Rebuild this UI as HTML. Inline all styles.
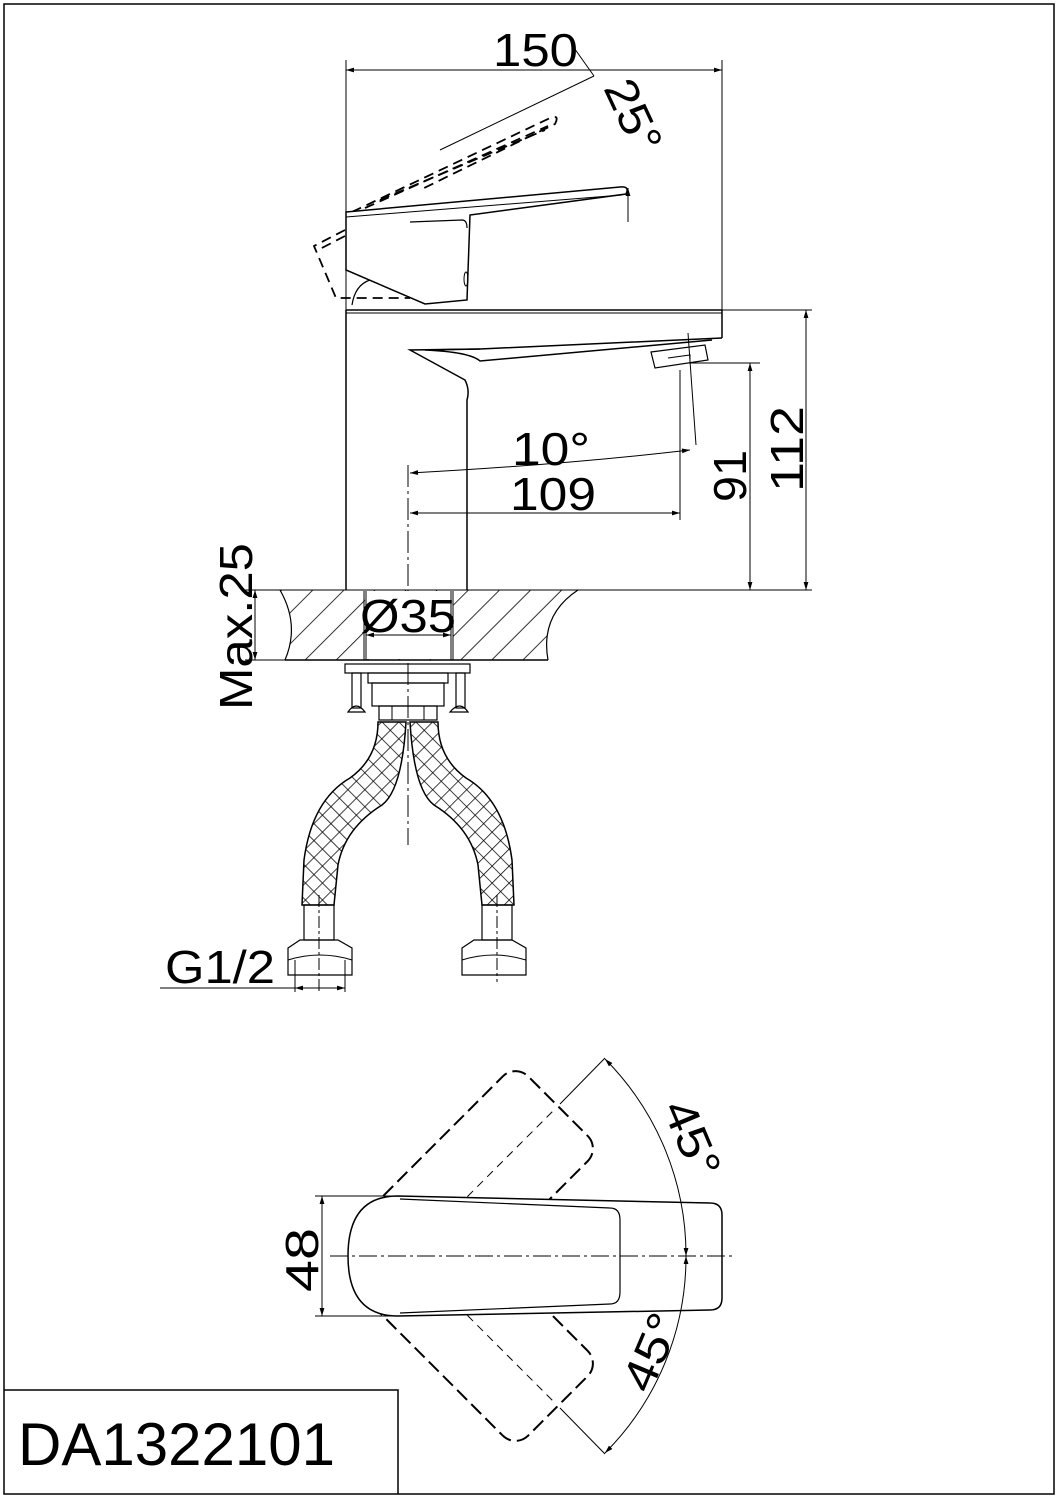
<!DOCTYPE html>
<html><head><meta charset="utf-8"><style>
html,body{margin:0;padding:0;background:#fff}
svg{display:block}
text{font-family:"Liberation Sans",Arial,sans-serif;fill:#000}
</style></head><body>
<svg width="1059" height="1500" viewBox="0 0 1059 1500" xmlns="http://www.w3.org/2000/svg">
<defs>
<pattern id="hatch" width="22" height="22" patternUnits="userSpaceOnUse" patternTransform="rotate(45)">
<line x1="0" y1="0" x2="0" y2="22" stroke="#000" stroke-width="1.6"/>
</pattern>
<pattern id="mesh" width="12" height="12" patternUnits="userSpaceOnUse" patternTransform="rotate(45)">
<rect width="12" height="12" fill="#fff"/>
<line x1="0" y1="0" x2="0" y2="12" stroke="#000" stroke-width="1.5"/>
<line x1="0" y1="0" x2="12" y2="0" stroke="#000" stroke-width="1.5"/>
</pattern>
<marker id="ar" viewBox="0 0 10 10" refX="10" refY="5" markerWidth="12" markerHeight="8" orient="auto-start-reverse" markerUnits="userSpaceOnUse">
<path d="M0,2 L10,5 L0,8 z" fill="#000"/>
</marker>
</defs>
<g fill="none" stroke="#000" stroke-width="1.5">
<rect x="4" y="4" width="1050" height="1490"/>
<polyline points="4,1390 398,1390 398,1494"/>

<!-- 150 dim -->
<line x1="346" y1="60" x2="346" y2="310" stroke-width="1"/>
<line x1="722" y1="60" x2="722" y2="310" stroke-width="1"/>
<line x1="346" y1="70" x2="722" y2="70" stroke-width="1" marker-start="url(#ar)" marker-end="url(#ar)"/>
<line x1="572" y1="45" x2="594" y2="76" stroke-width="1"/>
<line x1="594" y1="76" x2="440" y2="150" stroke-width="1"/>

<!-- dashed raised lever -->
<g stroke-dasharray="10,6" stroke-width="1.8">
<path d="M352,212 L550,118 Q560,114 555,124 L420,190"/>
<path d="M365,208 L548,126"/>
<path d="M380,200 L545,130"/>
<path d="M345,230 L314,246 L336,298 L410,298"/>
<path d="M345,236 L318,250"/>
</g>
<!-- handle body -->
<path d="M346,212 L620,187 Q630,186 626,194 L470,215 L467,300 L425,304 L346,270 Z" fill="#fff"/>
<line x1="346" y1="217" x2="622" y2="195" stroke-width="1"/>
<path d="M410,222 L462,220 Q467,220 467,228" stroke-width="1.2"/>
<path d="M352,305 Q355,285 370,280" stroke-width="1.2"/>
<line x1="628" y1="188" x2="628" y2="222" stroke-width="1" marker-start="url(#ar)"/>
<ellipse cx="466" cy="279" rx="2" ry="7" stroke-width="1"/>

<!-- body -->
<line x1="346" y1="310" x2="722" y2="310"/>
<line x1="346" y1="313" x2="722" y2="313" stroke-width="1"/>
<line x1="346" y1="310" x2="346" y2="590"/>
<line x1="722" y1="310" x2="722" y2="338"/>
<path d="M722,338 L480,349 L410,350 L465,380 Q470,390 467,400 L467,590"/>
<path d="M480,349 L425,350 Q470,352 480,361 L712,340"/>
<path d="M651,352 L705,345 L708,360 L655,368 Z" stroke-width="1.2"/>
<path d="M668,358 L690,355 L690,364" stroke-width="1"/>
<line x1="688" y1="333" x2="696" y2="445" stroke-width="1"/>
<line x1="690" y1="363" x2="760" y2="363" stroke-width="1"/>

<!-- dims 10°, 109 -->
<path d="M410,473 Q560,465 690,450" stroke-width="1" marker-start="url(#ar)" marker-end="url(#ar)"/>
<line x1="410" y1="513" x2="680" y2="513" stroke-width="1" marker-start="url(#ar)" marker-end="url(#ar)"/>
<line x1="680" y1="370" x2="680" y2="520" stroke-width="1"/>
<line x1="408" y1="465" x2="408" y2="845" stroke-width="1" stroke-dasharray="22,4,3,4"/>
<!-- 91 & 112 -->
<line x1="722" y1="310" x2="812" y2="310" stroke-width="1"/>
<line x1="750" y1="363" x2="750" y2="590" stroke-width="1" marker-start="url(#ar)" marker-end="url(#ar)"/>
<line x1="806" y1="310" x2="806" y2="590" stroke-width="1" marker-start="url(#ar)" marker-end="url(#ar)"/>

<!-- countertop -->
<line x1="245" y1="590" x2="812" y2="590" stroke-width="1"/>
<line x1="245" y1="660" x2="548" y2="660" stroke-width="1"/>
<path d="M280,590 L578,590 Q540,615 548,660 L285,660 Q300,625 280,590 Z" fill="url(#hatch)" stroke="none"/>
<path d="M280,590 Q300,625 285,660" stroke-width="1.2"/>
<path d="M578,590 Q540,615 548,660" stroke-width="1.2"/>
<line x1="285" y1="660" x2="548" y2="660"/>
<line x1="255" y1="590" x2="255" y2="660" stroke-width="1" marker-start="url(#ar)" marker-end="url(#ar)"/>
<rect x="365" y="591" width="88" height="68" fill="#fff" stroke="none"/>
<line x1="364" y1="591" x2="364" y2="660" stroke-width="1"/>
<line x1="366" y1="591" x2="366" y2="660" stroke-width="1"/>
<line x1="451" y1="591" x2="451" y2="660" stroke-width="1"/>
<line x1="453" y1="591" x2="453" y2="660" stroke-width="1"/>
<line x1="366" y1="635" x2="451" y2="635" stroke-width="1" marker-start="url(#ar)" marker-end="url(#ar)"/>

<!-- mounting -->
<rect x="345" y="664" width="125" height="9" stroke-width="1.2"/>
<rect x="352" y="673" width="9" height="35" stroke-width="1.2"/>
<rect x="456" y="673" width="9" height="35" stroke-width="1.2"/>
<path d="M348,712 Q356,700 365,712 Z" stroke-width="1.2"/>
<path d="M450,712 Q460,700 468,712 Z" stroke-width="1.2"/>
<rect x="368" y="673" width="80" height="10" stroke-width="1.2"/>
<rect x="372" y="683" width="72" height="23" stroke-width="1.2"/>
<rect x="379" y="706" width="58" height="14" stroke-width="1.2"/>
<line x1="392" y1="706" x2="392" y2="720" stroke-width="1"/>
<line x1="424" y1="706" x2="424" y2="720" stroke-width="1"/>

<!-- hoses -->
<path d="M378,722 L406,722 Q402,790 382,805 Q345,828 338,865 L334,905 L302,905 L304,860 Q312,800 350,778 Q378,758 378,722 Z" fill="url(#mesh)"/>
<path d="M438,722 L410,722 Q414,790 434,805 Q471,828 478,865 L482,905 L514,905 L512,860 Q504,800 466,778 Q438,758 438,722 Z" fill="url(#mesh)"/>
<rect x="304" y="905" width="30" height="35" stroke-width="1.2"/>
<rect x="482" y="905" width="30" height="35" stroke-width="1.2"/>
<path d="M288,948 L300,940 L338,940 L352,948 L352,975 L288,975 Z" stroke-width="1.2"/>
<path d="M288,960 Q320,950 352,960" stroke-width="1"/>
<path d="M462,948 L474,940 L512,940 L526,948 L526,975 L462,975 Z" stroke-width="1.2"/>
<path d="M462,960 Q494,950 526,960" stroke-width="1"/>
<line x1="319" y1="895" x2="319" y2="992" stroke-width="1" stroke-dasharray="12,3,3,3"/>
<line x1="497" y1="895" x2="497" y2="982" stroke-width="1" stroke-dasharray="12,3,3,3"/>
<line x1="160" y1="988" x2="345" y2="988" stroke-width="1"/>
<line x1="295" y1="960" x2="295" y2="992" stroke-width="1"/>
<line x1="345" y1="960" x2="345" y2="992" stroke-width="1"/>
<line x1="295" y1="988" x2="345" y2="988" stroke-width="1" marker-start="url(#ar)" marker-end="url(#ar)"/>

<!-- top view -->
<g stroke-dasharray="14,6" stroke-width="2">
<rect x="395" y="1196" width="225" height="120" rx="18" transform="rotate(-45 408 1256)"/>
<rect x="395" y="1196" width="225" height="120" rx="18" transform="rotate(45 408 1256)"/>
</g>
<g stroke-dasharray="8,6" stroke-width="1">
<line x1="408" y1="1256" x2="555" y2="1109"/>
<line x1="408" y1="1256" x2="555" y2="1403"/>
</g>
<path d="M398,1196 L710,1203 Q722,1203 722,1215 L722,1298 Q722,1310 710,1310 L398,1316 Q348,1316 348,1256 Q348,1196 398,1196 Z" fill="#fff"/>
<path d="M400,1199 L610,1208 Q620,1208 620,1220 L620,1292 Q620,1304 610,1304 L400,1313" stroke-width="1.2"/>
<line x1="330" y1="1256" x2="735" y2="1256" stroke-width="1" stroke-dasharray="18,4,3,4"/>
<line x1="315" y1="1196" x2="400" y2="1196" stroke-width="1"/>
<line x1="315" y1="1316" x2="400" y2="1316" stroke-width="1"/>
<line x1="322" y1="1196" x2="322" y2="1316" stroke-width="1" marker-start="url(#ar)" marker-end="url(#ar)"/>
<line x1="560" y1="1104" x2="605" y2="1058" stroke-width="1"/>
<line x1="560" y1="1408" x2="605" y2="1454" stroke-width="1"/>
<path d="M605,1059 A278 278 0 0 1 686,1256" stroke-width="1" marker-start="url(#ar)" marker-end="url(#ar)"/>
<path d="M686,1256 A278 278 0 0 1 605,1453" stroke-width="1" marker-start="url(#ar)" marker-end="url(#ar)"/>
</g>

<g font-size="46">
<text x="493" y="66" textLength="85" lengthAdjust="spacingAndGlyphs">150</text>
<text transform="translate(603,88) rotate(65)" textLength="76" lengthAdjust="spacingAndGlyphs">25°</text>
<text x="512" y="465" textLength="78" lengthAdjust="spacingAndGlyphs">10°</text>
<text x="510" y="510" textLength="86" lengthAdjust="spacingAndGlyphs">109</text>
<text transform="translate(746,502) rotate(-90)" textLength="52" lengthAdjust="spacingAndGlyphs">91</text>
<text transform="translate(803,492) rotate(-90)" textLength="86" lengthAdjust="spacingAndGlyphs">112</text>
<text transform="translate(252,710) rotate(-90)" textLength="167" lengthAdjust="spacingAndGlyphs">Max.25</text>
<text x="360" y="632" textLength="96" lengthAdjust="spacingAndGlyphs">Ø35</text>
<text x="165" y="983" textLength="110" lengthAdjust="spacingAndGlyphs">G1/2</text>
<text transform="translate(318,1292) rotate(-90)" textLength="64" lengthAdjust="spacingAndGlyphs">48</text>
<text transform="translate(662,1108) rotate(67)" textLength="80" lengthAdjust="spacingAndGlyphs">45°</text>
<text transform="translate(650,1395) rotate(-67)" textLength="80" lengthAdjust="spacingAndGlyphs">45°</text>
<text x="18" y="1465" font-size="60" textLength="317" lengthAdjust="spacingAndGlyphs">DA1322101</text>
</g>
</svg>
</body></html>
